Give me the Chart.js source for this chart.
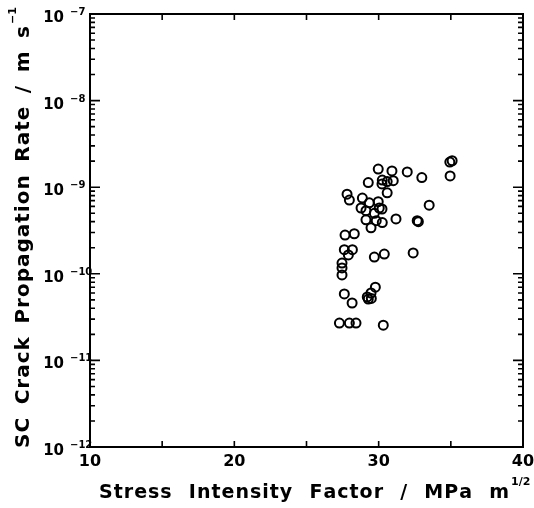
<!DOCTYPE html>
<html>
<head>
<meta charset="utf-8">
<script src="https://cdn.jsdelivr.net/npm/chart.js@4"></script>
<style>
  html, body { margin: 0; padding: 0; background: #fff; }
  canvas { display: block; }
</style>
</head>
<body>
<canvas id="plot" width="534" height="508"></canvas>
<script>
// Stress intensity factor (MPa m^1/2) and SC crack propagation rate (m/s)
const kValues = [
  29.97, 30.92, 31.98, 32.99, 35.09, 34.93, 34.95, 29.28, 30.25, 30.59,
  31.01, 30.23, 30.59, 27.81, 27.97, 28.87, 29.97, 30.04, 28.78, 29.12,
  29.35, 29.70, 30.23, 29.12, 29.83, 30.25, 31.20, 29.47, 33.50, 32.67,
  32.75, 27.67, 28.31, 27.62, 28.18, 27.90, 29.70, 30.39, 32.39, 27.46,
  27.46, 27.46, 27.62, 28.16, 29.21, 29.47, 29.77, 29.28, 29.49, 27.28,
  27.97, 28.43, 30.32
];
const rateValues = [
  1.62e-9, 1.54e-9, 1.50e-9, 1.29e-9, 2.02e-9, 1.95e-9, 1.35e-9, 1.13e-9, 1.21e-9, 1.16e-9,
  1.19e-9, 1.09e-9, 8.6e-10, 8.3e-10, 7.1e-10, 7.5e-10, 6.8e-10, 5.75e-10, 5.75e-10, 5.36e-10,
  6.6e-10, 5.0e-10, 5.6e-10, 4.2e-10, 4.1e-10, 3.9e-10, 4.3e-10, 3.4e-10, 6.2e-10, 4.1e-10,
  4.0e-10, 2.8e-10, 2.9e-10, 1.9e-10, 1.9e-10, 1.65e-10, 1.56e-10, 1.69e-10, 1.74e-10, 1.33e-10,
  1.17e-10, 9.7e-11, 5.85e-11, 4.6e-11, 5.4e-11, 6.0e-11, 7.0e-11, 5.1e-11, 5.2e-11, 2.7e-11,
  2.7e-11, 2.7e-11, 2.55e-11
];

const xTickLabels = [10, 20, 30, 40];
const yDecades = [-12, -11, -10, -9, -8, -7];
const xTitle = "Stress Intensity Factor / MPa m";
const xTitleSup = "1/2";
const yTitle = "SC Crack Propagation Rate / m s";
const yTitleSup = "\u22121";

const FONT = "'DejaVu Sans', sans-serif";

// draw text with a little letter spacing, rest of the width goes to word gaps
function drawWords(ctx, text, x, y, width, ls) {
  const words = text.split(" ");
  const wordW = w => [...w].reduce((s, c) => s + ctx.measureText(c).width, 0) + ls * (w.length - 1);
  const widths = words.map(wordW);
  const total = widths.reduce((a, b) => a + b, 0);
  const gap = (width - total) / (words.length - 1);
  let pos = x;
  words.forEach((w, i) => {
    let p = pos;
    [...w].forEach(c => {
      ctx.fillText(c, p, y);
      p += ctx.measureText(c).width + ls;
    });
    pos += widths[i] + gap;
  });
  return pos - gap;
}

const framePlugin = {
  id: "frame",
  afterDraw(chart) {
    const ctx = chart.ctx;
    const { left, right, top, bottom } = chart.chartArea;
    const xs = chart.scales.x;
    const ys = chart.scales.y;
    ctx.save();
    ctx.strokeStyle = "#000";
    ctx.fillStyle = "#000";

    // box
    ctx.lineWidth = 2;
    ctx.strokeRect(left, top, right - left, bottom - top);

    // inward ticks, x axis (bottom and top)
    ctx.lineWidth = 1.6;
    ctx.beginPath();
    xs.ticks.forEach(t => {
      const px = xs.getPixelForValue(t.value);
      ctx.moveTo(px, bottom); ctx.lineTo(px, bottom - 6);
      ctx.moveTo(px, top); ctx.lineTo(px, top + 6);
    });
    // inward ticks, y axis (left and right)
    ys.ticks.forEach(t => {
      const py = ys.getPixelForValue(t.value);
      const lg = Math.log10(t.value);
      const major = Math.abs(lg - Math.round(lg)) < 1e-6;
      const len = major ? 10 : 5;
      ctx.moveTo(left, py); ctx.lineTo(left + len, py);
      ctx.moveTo(right, py); ctx.lineTo(right - len, py);
    });
    ctx.stroke();

    // y tick labels 10^n
    yDecades.forEach(e => {
      const py = ys.getPixelForValue(Math.pow(10, e));
      ctx.font = "bold 15px " + FONT;
      ctx.textAlign = "right";
      ctx.textBaseline = "alphabetic";
      ctx.fillText("10", 64, py + 8);
      ctx.font = "bold 10px " + FONT;
      ctx.textAlign = "left";
      ctx.fillText("\u2212" + Math.abs(e), 70, py + 1);
    });

    // x title
    ctx.font = "bold 19px " + FONT;
    ctx.textAlign = "left";
    ctx.textBaseline = "alphabetic";
    const endX = drawWords(ctx, xTitle, 99, 498, 410, 1);
    ctx.font = "bold 11px " + FONT;
    ctx.fillText(xTitleSup, endX + 2, 485);

    // y title (rotated)
    ctx.translate(29, 448);
    ctx.rotate(-Math.PI / 2);
    ctx.font = "bold 20px " + FONT;
    const endY = drawWords(ctx, yTitle, 0, 0, 422, 1);
    ctx.font = "bold 11px " + FONT;
    ctx.fillText(yTitleSup, endY + 2, -13);
    ctx.restore();
  }
};

new Chart(document.getElementById("plot"), {
  type: "scatter",
  data: {
    datasets: [{
      data: kValues.map((k, i) => ({ x: k, y: rateValues[i] })),
      pointRadius: 4.5,
      pointHoverRadius: 4.5,
      pointBorderWidth: 2,
      borderColor: "#000",
      backgroundColor: "rgba(0,0,0,0)"
    }]
  },
  options: {
    responsive: false,
    animation: false,
    layout: { padding: { top: 14, right: 11, left: 0, bottom: 0 } },
    plugins: { legend: { display: false }, tooltip: { enabled: false } },
    scales: {
      x: {
        type: "linear",
        min: 10,
        max: 40,
        afterBuildTicks(scale) {
          scale.ticks = [];
          for (let v = 10; v <= 40; v += 5) scale.ticks.push({ value: v });
        },
        ticks: {
          autoSkip: false,
          maxRotation: 0,
          padding: 5,
          color: "#000",
          font: { family: FONT, size: 16, weight: "bold" },
          callback: v => (xTickLabels.includes(v) ? String(v) : "")
        },
        grid: { display: false, drawTicks: false },
        border: { display: false },
        afterFit(scale) {
          scale.height = 61;
          scale.paddingLeft = 0;
          scale.paddingRight = 0;
        }
      },
      y: {
        type: "logarithmic",
        min: 1e-12,
        max: 1e-7,
        afterBuildTicks(scale) {
          const ticks = [];
          for (let e = -12; e < -7; e++) {
            for (let m = 1; m <= 9; m++) ticks.push({ value: m * Math.pow(10, e) });
          }
          ticks.push({ value: 1e-7 });
          scale.ticks = ticks;
        },
        ticks: { display: false },
        grid: { display: false, drawTicks: false },
        border: { display: false },
        afterFit(scale) {
          scale.width = 90;
          scale.paddingTop = 0;
          scale.paddingBottom = 0;
        }
      }
    }
  },
  plugins: [framePlugin]
});
</script>
</body>
</html>
